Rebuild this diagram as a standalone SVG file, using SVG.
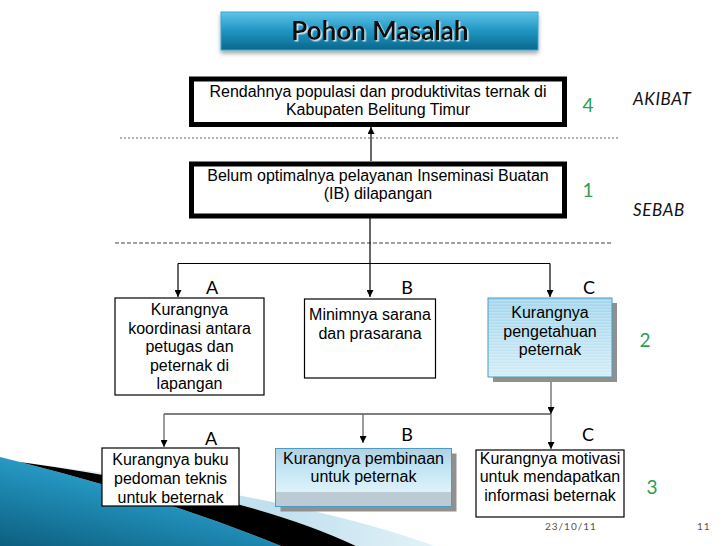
<svg xmlns="http://www.w3.org/2000/svg" width="728" height="546" viewBox="0 0 728 546">
<defs>
<style>
.t{font-family:"Liberation Sans",Arial,sans-serif;font-size:16px;fill:#000;text-anchor:middle}
.lbl{font-family:Lato,"Open Sans",sans-serif;font-size:18px;fill:#000;text-anchor:middle}
.num{font-family:Lato,"Open Sans",sans-serif;font-size:19px;fill:#2e9d4f;text-anchor:middle}
.side{font-family:Lato,"Open Sans",sans-serif;font-size:17px;font-style:italic;fill:#111;letter-spacing:0.6px}
.foot{font-family:Lato,"Open Sans",sans-serif;font-size:10px;fill:#555;letter-spacing:1px}
.thick{fill:#fff;stroke:#000;stroke-width:5}
.thin{fill:#fff;stroke:#000;stroke-width:1.2}
.con{fill:none;stroke:#000;stroke-width:1.2}
.con2{fill:none;stroke:#666;stroke-width:1.3}
.shadow{fill:#909090}
</style>
<marker id="ah" viewBox="0 0 8 8" refX="8" refY="4" markerWidth="7" markerHeight="7" markerUnits="userSpaceOnUse" orient="auto">
<path d="M0,0 L8,4 L0,8 Z" fill="#000"/>
</marker>
<linearGradient id="gTitle" x1="0" y1="0" x2="0" y2="1">
<stop offset="0" stop-color="#5fc3e8"/>
<stop offset="0.5" stop-color="#1f95c2"/>
<stop offset="1" stop-color="#0a678c"/>
</linearGradient>
<linearGradient id="gC1" x1="0" y1="0" x2="0" y2="1">
<stop offset="0" stop-color="#9fd4ec"/>
<stop offset="1" stop-color="#d2ecf7"/>
</linearGradient>
<linearGradient id="gB2" x1="0" y1="0" x2="0" y2="1">
<stop offset="0" stop-color="#b3d0de"/>
<stop offset="0.3" stop-color="#bfe3f3"/>
<stop offset="0.74" stop-color="#def2fa"/>
<stop offset="0.76" stop-color="#bccbd3"/>
<stop offset="1" stop-color="#bccbd3"/>
</linearGradient>
<pattern id="stripes" width="4" height="3" patternUnits="userSpaceOnUse">
<rect width="4" height="1.5" fill="#ffffff" opacity="0.25"/>
</pattern>
<linearGradient id="gBlue" x1="0" y1="1" x2="0.7" y2="0">
<stop offset="0" stop-color="#0c5d7e"/>
<stop offset="0.6" stop-color="#2393bd"/>
<stop offset="1" stop-color="#4ab2d8"/>
</linearGradient>
<linearGradient id="gLight" x1="0" y1="0" x2="1" y2="0">
<stop offset="0" stop-color="#e6f3f8"/>
<stop offset="0.6" stop-color="#bfe0ee"/>
<stop offset="1" stop-color="#e4f2f8"/>
</linearGradient>
<filter id="tsh" x="-10%" y="-20%" width="120%" height="150%">
<feDropShadow dx="1.5" dy="1.5" stdDeviation="0.6" flood-color="#d8eef5" flood-opacity="0.9"/>
</filter>
<filter id="bsh" x="-5%" y="-20%" width="110%" height="160%">
<feDropShadow dx="0" dy="3" stdDeviation="2" flood-color="#000" flood-opacity="0.35"/>
</filter>
</defs>
<rect width="728" height="546" fill="#fff"/>

<g id="decoration">
<path d="M20,462 Q300,496 440,548 L360,548 Q250,494 20,462 Z" fill="url(#gLight)"/>
<path d="M0,457 L20,462 Q170,500 286,548 L0,548 Z" fill="url(#gBlue)"/>
<path d="M20,462 Q250,494 360,548 L286,548 Q170,500 20,462 Z" fill="#000"/>
</g>

<g id="title">
<rect x="221" y="12" width="317" height="38" fill="url(#gTitle)" stroke="#3aa6cf" stroke-width="1" filter="url(#bsh)"/>
<text x="380" y="40" font-family="Lato,'Open Sans',sans-serif" font-size="26" font-weight="bold" fill="#111" text-anchor="middle" filter="url(#tsh)">Pohon Masalah</text>
</g>

<g id="guides">
<line x1="120" y1="138" x2="618" y2="138" stroke="#9a9a9a" stroke-width="1.5" stroke-dasharray="2 2"/>
<line x1="115" y1="243" x2="613" y2="243" stroke="#444" stroke-width="1" stroke-dasharray="4 2"/>
</g>

<g id="connectors">
<line class="con" x1="371" y1="161" x2="371" y2="127" marker-end="url(#ah)"/>
<line class="con" x1="370" y1="218" x2="370" y2="297" marker-end="url(#ah)"/>
<line class="con" x1="178" y1="263.5" x2="550" y2="263.5"/>
<line class="con" x1="178" y1="263.5" x2="178" y2="297" marker-end="url(#ah)"/>
<line class="con" x1="550" y1="263.5" x2="550" y2="297" marker-end="url(#ah)"/>
<line class="con2" x1="551" y1="382" x2="551" y2="414" marker-end="url(#ah)"/>
<line class="con" x1="164" y1="414" x2="551" y2="414"/>
<line class="con2" x1="164" y1="414" x2="164" y2="447" marker-end="url(#ah)"/>
<line class="con2" x1="363" y1="414" x2="363" y2="443" marker-end="url(#ah)"/>
<line class="con2" x1="551" y1="414" x2="551" y2="449" marker-end="url(#ah)"/>
</g>

<g id="akibat">
<rect class="thick" x="191.5" y="79" width="373" height="45.5"/>
<text class="t" x="378" y="96.5">Rendahnya populasi dan produktivitas ternak di</text>
<text class="t" x="378" y="115">Kabupaten Belitung Timur</text>
</g>

<g id="sebab">
<rect class="thick" x="191.5" y="164" width="373" height="52"/>
<text class="t" x="378" y="181">Belum optimalnya pelayanan Inseminasi Buatan</text>
<text class="t" x="378" y="199">(IB) dilapangan</text>
</g>

<g id="side-labels">
<text class="num" x="588" y="112">4</text>
<text class="side" x="633" y="105">AKIBAT</text>
<text class="num" x="588" y="197">1</text>
<text class="side" x="633" y="216">SEBAB</text>
<text class="num" x="645" y="347">2</text>
<text class="num" x="652" y="494">3</text>
</g>

<g id="row1-labels">
<text class="lbl" x="212" y="294">A</text>
<text class="lbl" x="407" y="294">B</text>
<text class="lbl" x="589" y="294">C</text>
</g>

<g id="a1">
<rect class="thin" x="115" y="298" width="149" height="97"/>
<text class="t" x="189.5" y="315">Kurangnya</text>
<text class="t" x="189.5" y="333.5">koordinasi antara</text>
<text class="t" x="189.5" y="352">petugas dan</text>
<text class="t" x="189.5" y="370.5">peternak di</text>
<text class="t" x="189.5" y="389">lapangan</text>
</g>

<g id="b1">
<rect class="thin" x="304.5" y="299" width="131" height="79"/>
<text class="t" x="370" y="320">Minimnya sarana</text>
<text class="t" x="370" y="338.5">dan prasarana</text>
</g>

<g id="c1">
<rect class="shadow" x="493" y="303" width="124" height="79"/>
<rect x="488" y="298" width="124" height="79" fill="url(#gC1)"/>
<rect x="488" y="298" width="124" height="79" fill="url(#stripes)" stroke="#4a9cc4" stroke-width="1"/>
<text class="t" x="550" y="318">Kurangnya</text>
<text class="t" x="550" y="336.5">pengetahuan</text>
<text class="t" x="550" y="355">peternak</text>
</g>

<g id="row2-labels">
<text class="lbl" x="211" y="445">A</text>
<text class="lbl" x="407" y="441">B</text>
<text class="lbl" x="588" y="441">C</text>
</g>

<g id="a2">
<rect class="thin" x="102" y="448" width="137" height="58"/>
<text class="t" x="170.5" y="465">Kurangnya buku</text>
<text class="t" x="170.5" y="484">pedoman teknis</text>
<text class="t" x="170.5" y="502.5">untuk beternak</text>
</g>

<g id="b2">
<rect class="shadow" x="280.5" y="453.5" width="176" height="58"/>
<rect x="275.5" y="448.5" width="176" height="58" fill="url(#gB2)" stroke="#4a9cc4" stroke-width="1"/>
<text class="t" x="363.5" y="464">Kurangnya pembinaan</text>
<text class="t" x="363.5" y="482">untuk peternak</text>
</g>

<g id="c2">
<rect class="thin" x="476" y="450" width="148" height="67"/>
<text class="t" x="550" y="464">Kurangnya motivasi</text>
<text class="t" x="550" y="482">untuk mendapatkan</text>
<text class="t" x="550" y="500.5">informasi beternak</text>
</g>

<g id="footer">
<text class="foot" x="545" y="530">23/10/11</text>
<text class="foot" x="697" y="530">11</text>
</g>
</svg>
